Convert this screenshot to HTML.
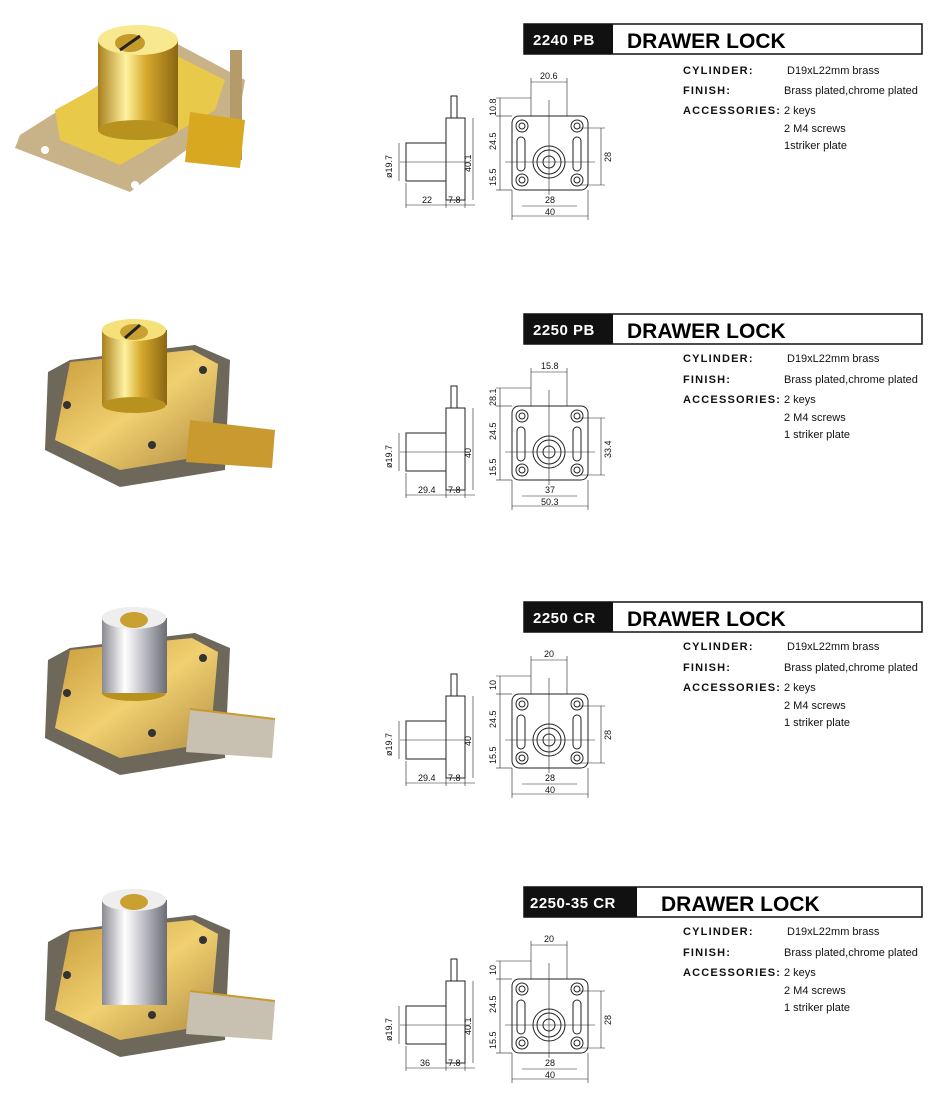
<!DOCTYPE html>
<html><head><meta charset="utf-8"><style>
body{margin:0;background:#fff}
svg{display:block}
text{font-family:"Liberation Sans",sans-serif}
.d{font-size:9px;fill:#111}
.s{font-size:11px;fill:#111}
.b{font-size:11px;font-weight:bold;fill:#111;letter-spacing:1.2px}
</style></head><body>
<svg width="950" height="1113" viewBox="0 0 950 1113" xmlns="http://www.w3.org/2000/svg">
<defs>
<linearGradient id="gold" x1="0" x2="1"><stop offset="0" stop-color="#a8801c"/><stop offset=".35" stop-color="#fff2a0"/><stop offset=".6" stop-color="#d6a92c"/><stop offset="1" stop-color="#8a6612"/></linearGradient>
<linearGradient id="chrome" x1="0" x2="1"><stop offset="0" stop-color="#8a8a92"/><stop offset=".35" stop-color="#ffffff"/><stop offset=".6" stop-color="#c8c8d0"/><stop offset="1" stop-color="#6c6c74"/></linearGradient>
<linearGradient id="plate" x1="0" y1="0" x2="1" y2="1"><stop offset="0" stop-color="#c89a3a"/><stop offset=".5" stop-color="#f0d070"/><stop offset="1" stop-color="#b08a40"/></linearGradient>
<g id="drw" fill="none" stroke="#222" stroke-width="1">
 <rect x="451" y="96" width="6" height="22"/>
 <rect x="446" y="118" width="19" height="82"/>
 <rect x="406" y="143" width="40" height="38"/>
 <line x1="400" y1="162" x2="470" y2="162" stroke-width="0.6"/>
 <line x1="473" y1="118" x2="473" y2="200" stroke-width="0.6"/>
 <line x1="399" y1="143" x2="399" y2="181" stroke-width="0.6"/>
 <line x1="406" y1="205" x2="475" y2="205" stroke-width="0.6"/>
 <line x1="406" y1="183" x2="406" y2="208" stroke-width="0.6"/>
 <line x1="446" y1="200" x2="446" y2="208" stroke-width="0.6"/>
 <line x1="465" y1="200" x2="465" y2="208" stroke-width="0.6"/>
 <rect x="512" y="116" width="76" height="74" rx="7"/>
 <circle cx="522" cy="126" r="6"/><circle cx="522" cy="126" r="3"/>
 <circle cx="577" cy="126" r="6"/><circle cx="577" cy="126" r="3"/>
 <circle cx="522" cy="180" r="6"/><circle cx="522" cy="180" r="3"/>
 <circle cx="577" cy="180" r="6"/><circle cx="577" cy="180" r="3"/>
 <rect x="517" y="137" width="8" height="34" rx="4"/>
 <rect x="573" y="137" width="8" height="34" rx="4"/>
 <circle cx="549" cy="162" r="16"/><circle cx="549" cy="162" r="12"/><circle cx="549" cy="162" r="6"/>
 <line x1="531" y1="82" x2="567" y2="82" stroke-width="0.6"/>
 <line x1="531" y1="78" x2="531" y2="116" stroke-width="0.6"/>
 <line x1="567" y1="78" x2="567" y2="116" stroke-width="0.6"/>
 <line x1="549" y1="100" x2="549" y2="195" stroke-width="0.6"/>
 <line x1="505" y1="162" x2="595" y2="162" stroke-width="0.6"/>
 <line x1="500" y1="98" x2="500" y2="190" stroke-width="0.6"/>
 <line x1="496" y1="98" x2="531" y2="98" stroke-width="0.6"/>
 <line x1="496" y1="116" x2="512" y2="116" stroke-width="0.6"/>
 <line x1="496" y1="190" x2="512" y2="190" stroke-width="0.6"/>
 <line x1="601" y1="128" x2="601" y2="185" stroke-width="0.6"/>
 <line x1="580" y1="128" x2="605" y2="128" stroke-width="0.6"/>
 <line x1="580" y1="185" x2="605" y2="185" stroke-width="0.6"/>
 <line x1="522" y1="206" x2="577" y2="206" stroke-width="0.6"/>
 <line x1="512" y1="216" x2="588" y2="216" stroke-width="0.6"/>
 <line x1="512" y1="190" x2="512" y2="220" stroke-width="0.6"/>
 <line x1="588" y1="190" x2="588" y2="220" stroke-width="0.6"/>
</g>
<g id="photo2">
 <polygon points="70,360 195,345 230,360 225,470 120,487 45,450 48,372" fill="#6e685a"/>
 <polygon points="70,362 192,350 218,364 210,455 120,470 55,440" fill="url(#plate)"/>
 <polygon points="190,420 275,430 272,468 186,462" fill="#c89a30"/>
 <circle cx="67" cy="405" r="4" fill="#333"/><circle cx="203" cy="370" r="4" fill="#333"/><circle cx="152" cy="445" r="4" fill="#333"/>
 <rect x="102" y="330" width="65" height="75" fill="url(#gold)"/>
 <ellipse cx="134" cy="405" rx="32" ry="8" fill="#b8921e"/>
 <ellipse cx="134" cy="330" rx="32" ry="11" fill="#f5e07a"/>
 <ellipse cx="134" cy="332" rx="14" ry="8" fill="#caa030"/>
 <line x1="125" y1="338" x2="140" y2="325" stroke="#222" stroke-width="3"/>
</g>
</defs>

<polygon points="20,135 170,40 245,80 240,110 130,192 15,148" fill="#c8b288"/>
<polygon points="55,110 165,50 225,80 215,110 120,165 60,140" fill="#e8c94a"/>
<rect x="230" y="50" width="12" height="110" fill="#b59a6a"/>
<polygon points="190,112 245,120 240,168 185,162" fill="#d8a820"/>
<rect x="98" y="40" width="80" height="90" fill="url(#gold)"/>
<ellipse cx="138" cy="130" rx="40" ry="10" fill="#b8921e"/>
<ellipse cx="138" cy="40" rx="40" ry="15" fill="#f8e890"/>
<ellipse cx="130" cy="43" rx="15" ry="9" fill="#c49a28"/>
<line x1="120" y1="50" x2="140" y2="36" stroke="#222" stroke-width="3"/>
<circle cx="45" cy="150" r="4" fill="#fff"/><circle cx="135" cy="185" r="4" fill="#fff"/>

<use href="#photo2"/>
<g transform="translate(0,288)"><use href="#photo2"/></g>
<g transform="translate(0,570)"><use href="#photo2"/></g>
<rect x="102" y="618" width="65" height="75" fill="url(#chrome)"/><ellipse cx="134" cy="618" rx="32" ry="11" fill="#eee"/><ellipse cx="134" cy="620" rx="14" ry="8" fill="#caa030"/>
<rect x="102" y="900" width="65" height="105" fill="url(#chrome)"/><ellipse cx="134" cy="900" rx="32" ry="11" fill="#eee"/><ellipse cx="134" cy="902" rx="14" ry="8" fill="#caa030"/>
<polygon points="190,710 275,720 272,758 186,752" fill="#c8c0b0"/>
<polygon points="190,992 275,1002 272,1040 186,1034" fill="#c8c0b0"/>

<g>
 <rect x="524" y="24" width="398" height="30" fill="#fff" stroke="#111" stroke-width="1.5"/>
 <rect x="524" y="24" width="89" height="30" fill="#111"/>
 <text x="533" y="45" font-size="15" font-weight="bold" fill="#fff" letter-spacing="0.5">2240 PB</text>
 <text x="627" y="48" font-size="21" font-weight="bold">DRAWER LOCK</text>
 <text class="b" x="683" y="74">CYLINDER:</text><text class="s" x="787" y="74">D19xL22mm brass</text>
 <text class="b" x="683" y="94">FINISH:</text><text class="s" x="784" y="94">Brass plated,chrome plated</text>
 <text class="b" x="683" y="114">ACCESSORIES:</text><text class="s" x="784" y="114">2 keys</text>
 <text class="s" x="784" y="132">2 M4 screws</text><text class="s" x="784" y="149">1striker plate</text>
</g>
<g transform="translate(0,290)">
 <rect x="524" y="24" width="398" height="30" fill="#fff" stroke="#111" stroke-width="1.5"/>
 <rect x="524" y="24" width="89" height="30" fill="#111"/>
 <text x="533" y="45" font-size="15" font-weight="bold" fill="#fff" letter-spacing="0.5">2250 PB</text>
 <text x="627" y="48" font-size="21" font-weight="bold">DRAWER LOCK</text>
 <text class="b" x="683" y="72">CYLINDER:</text><text class="s" x="787" y="72">D19xL22mm brass</text>
 <text class="b" x="683" y="93">FINISH:</text><text class="s" x="784" y="93">Brass plated,chrome plated</text>
 <text class="b" x="683" y="113">ACCESSORIES:</text><text class="s" x="784" y="113">2 keys</text>
 <text class="s" x="784" y="131">2 M4 screws</text><text class="s" x="784" y="148">1 striker plate</text>
</g>
<g transform="translate(0,578)">
 <rect x="524" y="24" width="398" height="30" fill="#fff" stroke="#111" stroke-width="1.5"/>
 <rect x="524" y="24" width="89" height="30" fill="#111"/>
 <text x="533" y="45" font-size="15" font-weight="bold" fill="#fff" letter-spacing="0.5">2250 CR</text>
 <text x="627" y="48" font-size="21" font-weight="bold">DRAWER LOCK</text>
 <text class="b" x="683" y="72">CYLINDER:</text><text class="s" x="787" y="72">D19xL22mm brass</text>
 <text class="b" x="683" y="93">FINISH:</text><text class="s" x="784" y="93">Brass plated,chrome plated</text>
 <text class="b" x="683" y="113">ACCESSORIES:</text><text class="s" x="784" y="113">2 keys</text>
 <text class="s" x="784" y="131">2 M4 screws</text><text class="s" x="784" y="148">1 striker plate</text>
</g>
<g transform="translate(0,863)">
 <rect x="524" y="24" width="398" height="30" fill="#fff" stroke="#111" stroke-width="1.5"/>
 <rect x="524" y="24" width="113" height="30" fill="#111"/>
 <text x="530" y="45" font-size="15" font-weight="bold" fill="#fff" letter-spacing="0.5">2250-35 CR</text>
 <text x="661" y="48" font-size="21" font-weight="bold">DRAWER LOCK</text>
 <text class="b" x="683" y="72">CYLINDER:</text><text class="s" x="787" y="72">D19xL22mm brass</text>
 <text class="b" x="683" y="93">FINISH:</text><text class="s" x="784" y="93">Brass plated,chrome plated</text>
 <text class="b" x="683" y="113">ACCESSORIES:</text><text class="s" x="784" y="113">2 keys</text>
 <text class="s" x="784" y="131">2 M4 screws</text><text class="s" x="784" y="148">1 striker plate</text>
</g>

<g><use href="#drw"/>
 <text class="d" x="540" y="79">20.6</text>
 <text class="d" transform="translate(496,116) rotate(-90)">10.8</text>
 <text class="d" transform="translate(496,150) rotate(-90)">24.5</text>
 <text class="d" transform="translate(496,186) rotate(-90)">15.5</text>
 <text class="d" transform="translate(611,162) rotate(-90)">28</text>
 <text class="d" transform="translate(471,172) rotate(-90)">40.1</text>
 <text class="d" transform="translate(392,178) rotate(-90)">ø19.7</text>
 <text class="d" x="422" y="203">22</text><text class="d" x="448" y="203">7.8</text>
 <text class="d" x="545" y="203">28</text><text class="d" x="545" y="215">40</text>
</g>
<g transform="translate(0,290)"><use href="#drw"/>
 <text class="d" x="541" y="79">15.8</text>
 <text class="d" transform="translate(496,116) rotate(-90)">28.1</text>
 <text class="d" transform="translate(496,150) rotate(-90)">24.5</text>
 <text class="d" transform="translate(496,186) rotate(-90)">15.5</text>
 <text class="d" transform="translate(611,168) rotate(-90)">33.4</text>
 <text class="d" transform="translate(471,168) rotate(-90)">40</text>
 <text class="d" transform="translate(392,178) rotate(-90)">ø19.7</text>
 <text class="d" x="418" y="203">29.4</text><text class="d" x="448" y="203">7.8</text>
 <text class="d" x="545" y="203">37</text><text class="d" x="541" y="215">50.3</text>
</g>
<g transform="translate(0,578)"><use href="#drw"/>
 <text class="d" x="544" y="79">20</text>
 <text class="d" transform="translate(496,112) rotate(-90)">10</text>
 <text class="d" transform="translate(496,150) rotate(-90)">24.5</text>
 <text class="d" transform="translate(496,186) rotate(-90)">15.5</text>
 <text class="d" transform="translate(611,162) rotate(-90)">28</text>
 <text class="d" transform="translate(471,168) rotate(-90)">40</text>
 <text class="d" transform="translate(392,178) rotate(-90)">ø19.7</text>
 <text class="d" x="418" y="203">29.4</text><text class="d" x="448" y="203">7.8</text>
 <text class="d" x="545" y="203">28</text><text class="d" x="545" y="215">40</text>
</g>
<g transform="translate(0,863)"><use href="#drw"/>
 <text class="d" x="544" y="79">20</text>
 <text class="d" transform="translate(496,112) rotate(-90)">10</text>
 <text class="d" transform="translate(496,150) rotate(-90)">24.5</text>
 <text class="d" transform="translate(496,186) rotate(-90)">15.5</text>
 <text class="d" transform="translate(611,162) rotate(-90)">28</text>
 <text class="d" transform="translate(471,172) rotate(-90)">40.1</text>
 <text class="d" transform="translate(392,178) rotate(-90)">ø19.7</text>
 <text class="d" x="420" y="203">36</text><text class="d" x="448" y="203">7.8</text>
 <text class="d" x="545" y="203">28</text><text class="d" x="545" y="215">40</text>
</g>
</svg>
</body></html>
